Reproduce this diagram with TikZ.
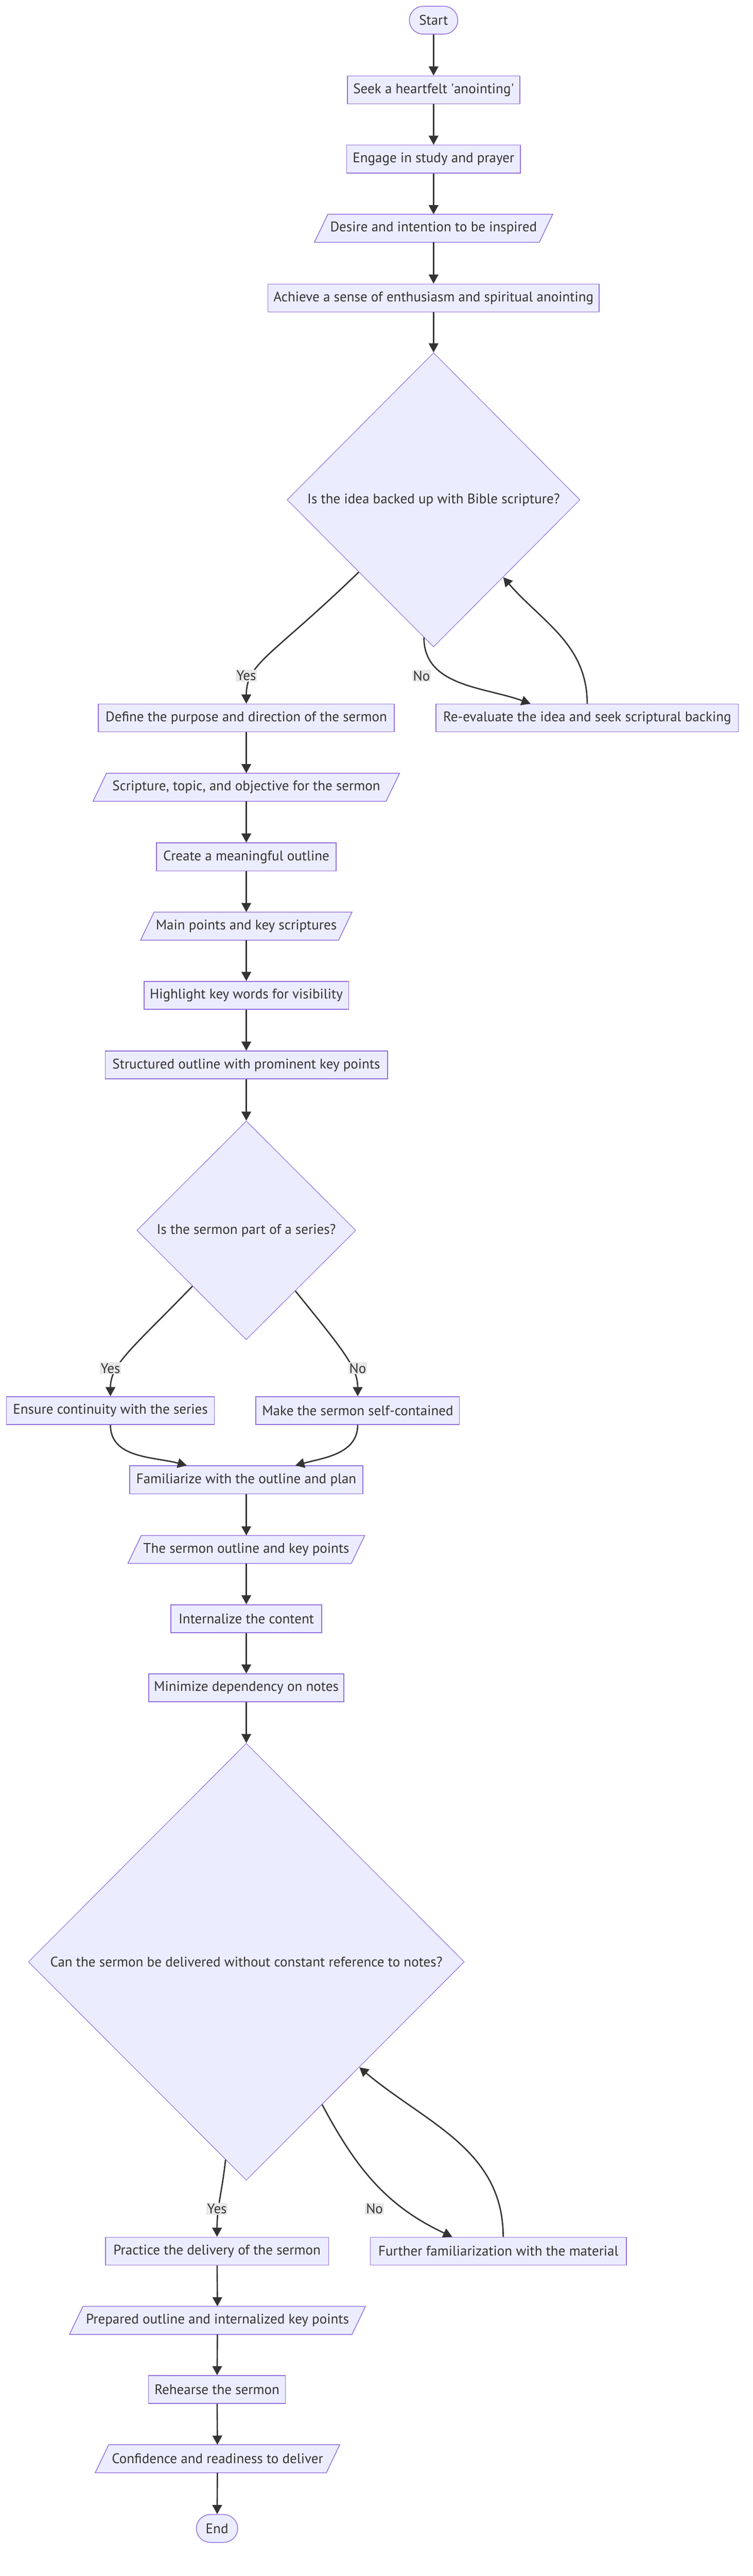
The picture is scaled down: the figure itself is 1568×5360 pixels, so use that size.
\documentclass[tikz,border=0pt]{standalone}
\usepackage{fontspec}
\setmainfont{PT Sans}
\usetikzlibrary{shapes.geometric,arrows.meta,calc,backgrounds}
\definecolor{nfill}{HTML}{ECECFF}
\definecolor{nline}{HTML}{9370DB}
\definecolor{ink}{HTML}{333333}
\definecolor{lblbg}{HTML}{E8E8E8}
\begin{document}
\begin{tikzpicture}[x=1pt,y=-1pt,
  every node/.style={font=\fontsize{29}{34}\selectfont, text=ink},
  procbox/.style={rectangle, draw=nline, fill=nfill, line width=1.6pt, minimum height=58pt, inner sep=0pt},
  iobox/.style={rectangle, minimum height=58pt, inner sep=0pt},
  termbox/.style={rectangle, rounded corners=29pt, draw=nline, fill=nfill, line width=1.6pt, minimum height=58pt, inner sep=0pt},
  decision/.style={diamond, draw=nline, fill=nfill, line width=1.2pt, inner sep=0pt},
  flow/.style={draw=ink, line width=2.8pt, -{Triangle[length=19pt,width=20pt]}},
  lbl/.style={fill=lblbg, inner sep=2pt},
  iodraw/.style={draw=nline, fill=nfill, line width=1.6pt, line join=miter}
]
\useasboundingbox (0,0) rectangle (1568,5360);

\node[termbox, minimum width=101pt] (start) at (903,42) {Start};
\node[procbox, minimum width=359pt] (seek) at (903,187) {Seek a heartfelt \textquotesingle anointing\textquotesingle};
\node[procbox, minimum width=362pt] (engage) at (903,331) {Engage in study and prayer};
\node[iobox, minimum width=468pt] (desire) at (903,475) {Desire and intention to be inspired};
\node[procbox, minimum width=690pt] (achieve) at (903,620) {Achieve a sense of enthusiasm and spiritual anointing};
\node[decision, minimum width=610pt, minimum height=612pt] (q1) at (903,1040) {Is the idea backed up with Bible scripture?};
\node[procbox, minimum width=616pt] (define) at (513,1494) {Define the purpose and direction of the sermon};
\node[procbox, minimum width=630pt] (reeval) at (1223,1494) {Re-evaluate the idea and seek scriptural backing};
\node[iobox, minimum width=610pt] (scripture) at (513,1638) {Scripture, topic, and objective for the sermon};
\node[procbox, minimum width=374pt] (create) at (513,1783) {Create a meaningful outline};
\node[iobox, minimum width=412pt] (mainpts) at (513,1927) {Main points and key scriptures};
\node[procbox, minimum width=426pt] (highlight) at (513,2071) {Highlight key words for visibility};
\node[procbox, minimum width=588pt] (structured) at (513,2216) {Structured outline with prominent key points};
\node[decision, minimum width=456pt, minimum height=455pt] (q2) at (513,2560) {Is the sermon part of a series?};
\node[procbox, minimum width=433pt] (ensure) at (230,2935) {Ensure continuity with the series};
\node[procbox, minimum width=424pt] (selfc) at (745,2935) {Make the sermon self-contained};
\node[procbox, minimum width=486pt] (familiar) at (513,3079) {Familiarize with the outline and plan};
\node[iobox, minimum width=465pt] (outline) at (513,3224) {The sermon outline and key points};
\node[procbox, minimum width=314pt] (internal) at (513,3368) {Internalize the content};
\node[procbox, minimum width=406pt] (minimize) at (513,3512) {Minimize dependency on notes};
\node[decision, minimum width=908pt, minimum height=909pt] (q3) at (513,4082) {Can the sermon be delivered without constant reference to notes?};
\node[procbox, minimum width=465pt] (practice) at (452,4684) {Practice the delivery of the sermon};
\node[procbox, minimum width=533pt] (further) at (1038,4684) {Further familiarization with the material};
\node[iobox, minimum width=588pt] (prepared) at (453,4828) {Prepared outline and internalized key points};
\node[procbox, minimum width=285pt] (rehearse) at (452,4972) {Rehearse the sermon};
\node[iobox, minimum width=481pt] (confidence) at (453,5116) {Confidence and readiness to deliver};
\node[termbox, minimum width=86pt] (end) at (452,5261) {End};

\begin{scope}[on background layer]
\foreach \n in {desire,scripture,mainpts,outline,prepared,confidence}{
  \draw[iodraw] ($(\n.south west)+(-14,0)$) -- ($(\n.north west)+(14,0)$) -- ($(\n.north east)+(14,0)$) -- ($(\n.south east)+(-14,0)$) -- cycle;
}
\end{scope}

\draw[flow] (start) -- (seek);
\draw[flow] (seek) -- (engage);
\draw[flow] (engage) -- (desire);
\draw[flow] (desire) -- (achieve);
\draw[flow] (achieve) -- (q1);
\draw[flow] (q1.-136) to[out=-136,in=90,out looseness=1.8,in looseness=0.6] (define.north);
\draw[flow] (q1.-94) to[out=-90,in=160] ([xshift=-118pt]reeval.north);
\draw[flow] (reeval.north) to[out=90,in=-49] (q1.-48);
\draw[flow] (define) -- (scripture);
\draw[flow] (scripture) -- (create);
\draw[flow] (create) -- (mainpts);
\draw[flow] (mainpts) -- (highlight);
\draw[flow] (highlight) -- (structured);
\draw[flow] (structured) -- (q2);
\draw[flow] (q2.-134) to[out=-134,in=90,out looseness=1.6,in looseness=0.6] (ensure.north);
\draw[flow] (q2.-51) to[out=-51,in=90,out looseness=1.6,in looseness=0.6] (selfc.north);
\draw[flow] (ensure.south) to[out=-90,in=165] ([xshift=-124pt]familiar.north);
\draw[flow] (selfc.south) to[out=-90,in=15] ([xshift=102pt]familiar.north);
\draw[flow] (familiar) -- (outline);
\draw[flow] (outline) -- (internal);
\draw[flow] (internal) -- (minimize);
\draw[flow] (minimize) -- (q3);
\draw[flow] (q3.-96) to[out=-96,in=90] (practice.north);
\draw[flow] (q3.-62) to[out=-62,in=155] ([xshift=-96pt]further.north);
\draw[flow] ([xshift=10pt]further.north) to[out=90,in=-40] (q3.-43);
\draw[flow] (practice) -- (prepared);
\draw[flow] (prepared) -- (rehearse);
\draw[flow] (rehearse) -- (confidence);
\draw[flow] (confidence) -- (end);

\node[lbl] (yes1) at (513,1406) {Yes};
\node[lbl] (no1) at (878,1406) {No};
\node[lbl] (yes2) at (230,2847) {Yes};
\node[lbl] (no2) at (745,2847) {No};
\node[lbl] (yes3) at (452,4596) {Yes};
\node[lbl] (no3) at (780,4596) {No};
\end{tikzpicture}
\end{document}
